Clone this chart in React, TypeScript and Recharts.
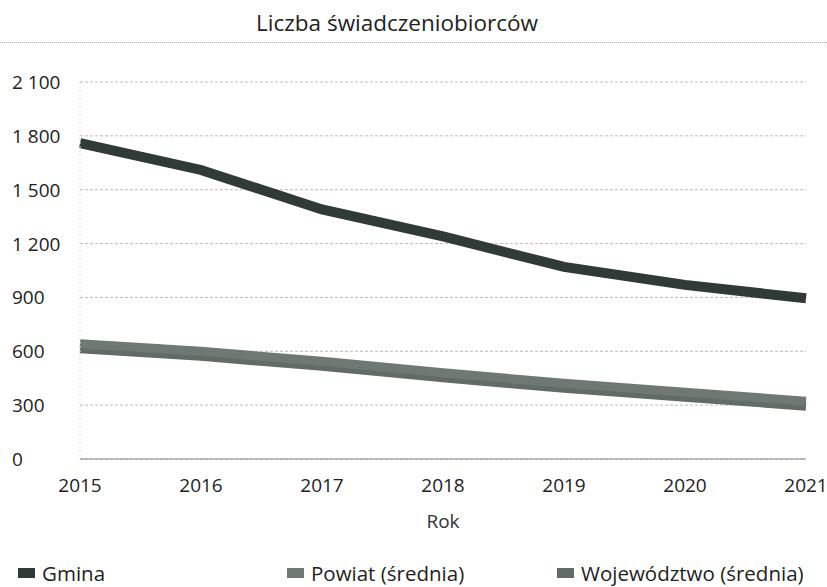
import { LineChart, Line, XAxis, YAxis, CartesianGrid } from "recharts";

const years = ["2015", "2016", "2017", "2018", "2019", "2020", "2021"];
const gmina = [1760, 1610, 1390, 1240, 1070, 970, 895];
const powiat = [642, 600, 544, 480, 422, 372, 322];
const wojewodztwo = [614, 572, 516, 452, 394, 344, 294];
const yTicks = [0, 300, 600, 900, 1200, 1500, 1800, 2100];

const data = years.map((year, i) => ({
  year,
  gmina: gmina[i],
  powiat: powiat[i],
  wojewodztwo: wojewodztwo[i],
}));

const FONT = "'Open Sans', sans-serif";
const COLORS = {
  gmina: "#303a36",
  powiat: "#6f7873",
  wojewodztwo: "#626b66",
};

const fmt = (v: number) => String(v).replace(/\B(?=(\d{3})+(?!\d))/g, " ");

function YTick({ y, payload }: any) {
  return (
    <text x={12} y={y} dy={7} textAnchor="start" fontSize={19} fill="#222" fontFamily={FONT}>
      {fmt(payload.value)}
    </text>
  );
}

const legendItems = [
  { label: "Gmina", color: COLORS.gmina, left: 18 },
  { label: "Powiat (średnia)", color: COLORS.powiat, left: 287 },
  { label: "Województwo (średnia)", color: COLORS.wojewodztwo, left: 557 },
];

export default function App() {
  return (
    <div style={{ position: "absolute", left: 0, top: 0, width: 827, height: 587, background: "#fff", fontFamily: FONT }}>
      <div style={{ position: "absolute", top: 7, left: 0, width: 794, textAlign: "center", fontSize: 22.5, color: "#222" }}>
        Liczba świadczeniobiorców
      </div>
      <div style={{ position: "absolute", top: 42, left: 0, width: 827, borderTop: "1px dotted #aaa" }} />
      <LineChart width={827} height={587} data={data} margin={{ top: 82, right: 21, bottom: 0, left: 10 }}>
        <CartesianGrid horizontal vertical={false} stroke="#bbb" strokeDasharray="3 2" />
        <XAxis
          dataKey="year"
          height={128}
          tickLine={false}
          axisLine={{ stroke: "#888" }}
          tick={{ fontSize: 19, fill: "#222", fontFamily: FONT }}
          tickMargin={14}
          interval={0}
          label={{ value: "Rok", position: "insideTop", offset: 56, fontSize: 19, fill: "#333", fontFamily: FONT }}
        />
        <YAxis
          width={70}
          domain={[0, 2100]}
          ticks={yTicks}
          tickLine={false}
          axisLine={{ stroke: "#ddd", strokeDasharray: "2 2" }}
          tick={<YTick />}
        />
        <Line type="linear" dataKey="wojewodztwo" stroke={COLORS.wojewodztwo} strokeWidth={9} dot={false} isAnimationActive={false} />
        <Line type="linear" dataKey="powiat" stroke={COLORS.powiat} strokeWidth={9} dot={false} isAnimationActive={false} />
        <Line type="linear" dataKey="gmina" stroke={COLORS.gmina} strokeWidth={10} dot={false} isAnimationActive={false} />
      </LineChart>
      {legendItems.map((it) => (
        <div key={it.label} style={{ position: "absolute", top: 559, left: it.left, display: "flex", alignItems: "center", fontSize: 20.5, color: "#222" }}>
          <span style={{ display: "inline-block", width: 17, height: 10, background: it.color, marginRight: 7 }} />
          {it.label}
        </div>
      ))}
    </div>
  );
}
